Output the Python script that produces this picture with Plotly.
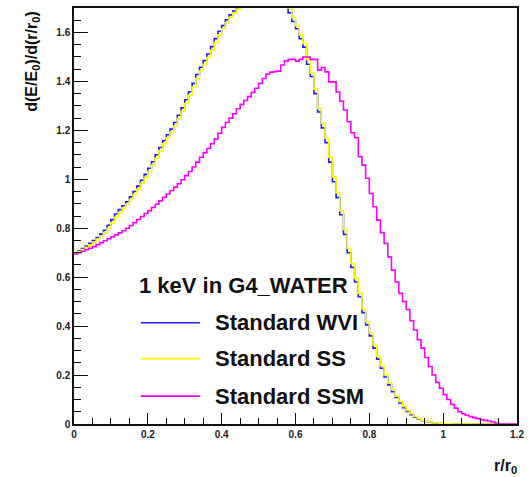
import numpy as np
import plotly.graph_objects as go

# r/r0 histogram: 120 bins of width 0.01 from 0 to 1.2
x_min, x_max, n_bins = 0.0, 1.2, 120

wvi = [0.700, 0.708, 0.717, 0.727, 0.738, 0.750, 0.762, 0.776, 0.792, 0.812,
       0.835, 0.858, 0.876, 0.892, 0.908, 0.928, 0.950, 0.972, 0.996, 1.020,
       1.045, 1.072, 1.100, 1.130, 1.158, 1.182, 1.205, 1.232, 1.262, 1.292,
       1.325, 1.358, 1.392, 1.428, 1.458, 1.485, 1.512, 1.542, 1.575, 1.605,
       1.628, 1.652, 1.672, 1.688, 1.702, 1.715, 1.735, 1.750, 1.770, 1.785,
       1.800, 1.810, 1.815, 1.810, 1.800, 1.785, 1.760, 1.725, 1.680, 1.645,
       1.615, 1.575, 1.540, 1.470, 1.420, 1.350, 1.275, 1.210, 1.150, 1.070,
       0.990, 0.925, 0.855, 0.775, 0.700, 0.640, 0.580, 0.520, 0.455, 0.405,
       0.360, 0.310, 0.265, 0.228, 0.192, 0.160, 0.132, 0.108, 0.086, 0.067,
       0.051, 0.038, 0.028, 0.020, 0.014, 0.010, 0.007, 0.005, 0.003, 0.002,
       0.001, 0.0005, 0, 0, 0, 0, 0, 0, 0, 0,
       0, 0, 0, 0, 0, 0, 0, 0, 0, 0]

ss = [0.698, 0.705, 0.713, 0.722, 0.732, 0.744, 0.756, 0.768, 0.782, 0.800,
      0.822, 0.845, 0.864, 0.882, 0.898, 0.917, 0.938, 0.960, 0.984, 1.008,
      1.032, 1.058, 1.086, 1.116, 1.145, 1.170, 1.193, 1.218, 1.248, 1.278,
      1.310, 1.343, 1.377, 1.412, 1.443, 1.470, 1.498, 1.527, 1.560, 1.590,
      1.615, 1.640, 1.662, 1.680, 1.695, 1.708, 1.725, 1.745, 1.765, 1.780,
      1.795, 1.805, 1.812, 1.810, 1.802, 1.790, 1.768, 1.735, 1.700, 1.660,
      1.628, 1.590, 1.555, 1.490, 1.435, 1.368, 1.290, 1.228, 1.168, 1.090,
      1.010, 0.945, 0.872, 0.795, 0.718, 0.655, 0.595, 0.535, 0.470, 0.418,
      0.372, 0.322, 0.276, 0.238, 0.200, 0.168, 0.140, 0.114, 0.092, 0.072,
      0.055, 0.042, 0.031, 0.022, 0.016, 0.011, 0.008, 0.005, 0.004, 0.002,
      0.001, 0.0005, 0, 0, 0, 0, 0, 0, 0, 0,
      0, 0, 0, 0, 0, 0, 0, 0, 0, 0]

ssm = [0.695, 0.700, 0.706, 0.712, 0.718, 0.725, 0.733, 0.741, 0.749, 0.757,
       0.765, 0.773, 0.781, 0.790, 0.800, 0.811, 0.823, 0.836, 0.848, 0.860,
       0.872, 0.885, 0.898, 0.912, 0.926, 0.940, 0.954, 0.968, 0.982, 0.998,
       1.015, 1.032, 1.050, 1.070, 1.090, 1.108, 1.126, 1.145, 1.165, 1.188,
       1.212, 1.232, 1.250, 1.268, 1.288, 1.306, 1.322, 1.338, 1.355, 1.372,
       1.392, 1.412, 1.430, 1.438, 1.440, 1.442, 1.467, 1.484, 1.490, 1.490,
       1.483, 1.490, 1.500, 1.500, 1.490, 1.490, 1.446, 1.457, 1.439, 1.398,
       1.398, 1.357, 1.319, 1.283, 1.235, 1.190, 1.170, 1.092, 1.058, 1.004,
       0.942, 0.888, 0.833, 0.782, 0.738, 0.683, 0.629, 0.580, 0.534, 0.500,
       0.468, 0.422, 0.384, 0.345, 0.310, 0.272, 0.235, 0.200, 0.170, 0.146,
       0.120, 0.100, 0.080, 0.065, 0.050, 0.042, 0.036, 0.030, 0.026, 0.022,
       0.018, 0.015, 0.012, 0.008, 0.004, 0, 0, 0, 0, 0]

series_names = ["Standard WVI", "Standard SS", "Standard SSM"]
series_colors = ["#1f1fff", "#ffff00", "#ff00ff"]
legend_title = "1 keV in G4_WATER"

edges = np.linspace(x_min, x_max, n_bins + 1)

fig = go.Figure()
for vals, name, col in zip([wvi, ss, ssm], series_names, series_colors):
    fig.add_trace(go.Scatter(
        x=edges, y=list(vals) + [vals[-1]], mode="lines",
        line=dict(color=col, width=1.6, shape="hv"),
        name=name, showlegend=False, hoverinfo="skip"))

FONT = "Liberation Sans, Arial, sans-serif"

# Legend drawn manually inside the plot (ROOT TLegend style)
leg_x0, leg_x1 = 0.181, 0.341
leg_text_x = 0.376
leg_ys = [0.414, 0.267, 0.114]
for yv, name, col in zip(leg_ys, series_names, series_colors):
    fig.add_shape(type="line", xref="x", yref="y", x0=leg_x0, x1=leg_x1,
                  y0=yv, y1=yv, line=dict(color=col, width=1.6))
    fig.add_annotation(xref="x", yref="y", x=leg_text_x, y=yv, text=name,
                       showarrow=False, xanchor="left", yanchor="middle",
                       font=dict(family=FONT, size=22, color="#111111", weight="bold"))
fig.add_annotation(xref="x", yref="y", x=0.171, y=0.564, text=legend_title,
                   showarrow=False, xanchor="left", yanchor="middle",
                   font=dict(family=FONT, size=22, color="#111111", weight="bold"))

# Axis titles
fig.add_annotation(xref="paper", yref="paper", x=-0.0956, y=0.87,
                   text="d(E/E<sub>0</sub>)/d(r/r<sub>0</sub>)", textangle=-90,
                   showarrow=False, xanchor="center", yanchor="middle",
                   font=dict(family=FONT, size=16, color="#111111", weight="bold"))
fig.add_annotation(xref="paper", yref="paper", x=1.004, y=-0.101,
                   text="r/r<sub>0</sub>", showarrow=False,
                   xanchor="right", yanchor="middle",
                   font=dict(family=FONT, size=16, color="#111111", weight="bold"))

axis_common = dict(showgrid=False, zeroline=False, showline=True, mirror=True,
                   linecolor="#111111", linewidth=1.5, ticks="inside",
                   tickcolor="#111111", tickwidth=1.2, ticklabeloverflow="allow",
                   tickfont=dict(family=FONT, size=10, color="#222222", weight="bold"))

fig.update_xaxes(range=[0, 1.2], tick0=0, dtick=0.2, ticklen=11,
                 minor=dict(ticks="inside", dtick=0.05, ticklen=6,
                            tickcolor="#111111", tickwidth=1.2),
                 **axis_common)
fig.update_yaxes(range=[0, 1.7], tick0=0, dtick=0.2, ticklen=14,
                 minor=dict(ticks="inside", dtick=0.05, ticklen=7.5,
                            tickcolor="#111111", tickwidth=1.2),
                 **axis_common)

fig.update_layout(width=528, height=477,
                  margin=dict(l=74, r=4, t=8, b=53),
                  paper_bgcolor="white", plot_bgcolor="white",
                  showlegend=False)

fig.write_html("out.html")
